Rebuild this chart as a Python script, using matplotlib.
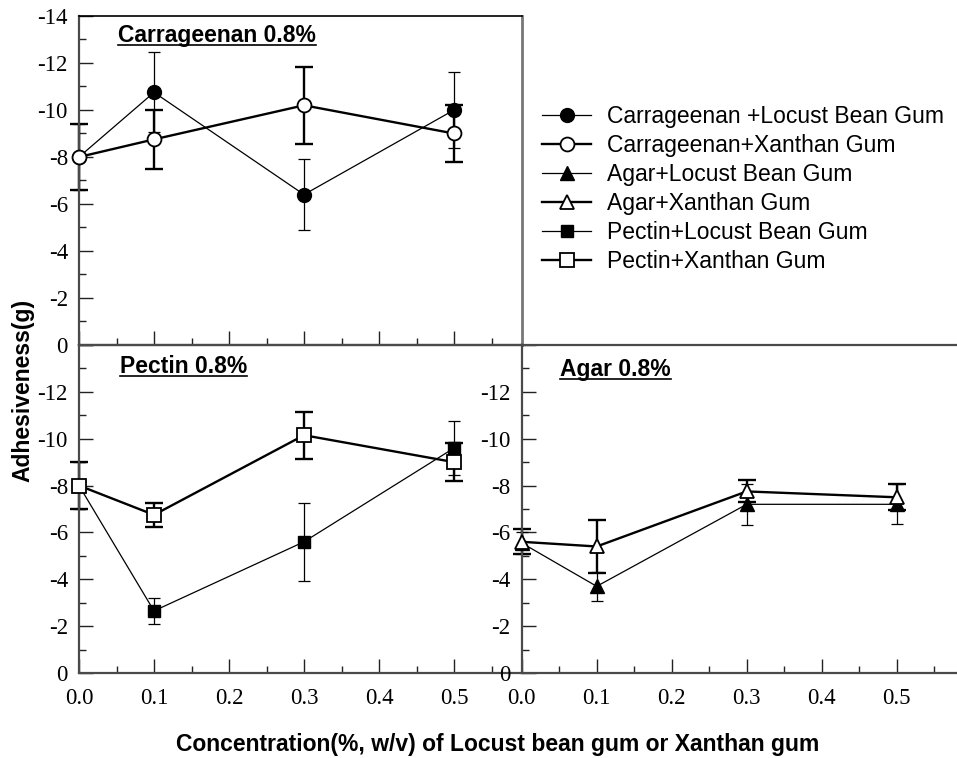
import matplotlib
matplotlib.use('Agg')
import matplotlib.pyplot as plt
from matplotlib.ticker import FixedLocator, FixedFormatter, MultipleLocator
from matplotlib.lines import Line2D

# ---------------- data ----------------
conc = [0.0, 0.1, 0.3, 0.5]

car_lbg = [-8.0, -10.75, -6.4, -10.0]
car_lbg_err = [1.4, 1.7, 1.5, 1.6]
car_xg = [-8.0, -8.75, -10.2, -9.0]
car_xg_err = [1.4, 1.25, 1.65, 1.2]

agar_lbg = [-5.55, -3.7, -7.2, -7.2]
agar_lbg_err = [0.48, 0.62, 0.87, 0.85]
agar_xg = [-5.6, -5.4, -7.75, -7.5]
agar_xg_err = [0.53, 1.12, 0.47, 0.55]

pec_lbg = [-8.0, -2.65, -5.6, -9.6]
pec_lbg_err = [1.0, 0.57, 1.67, 1.15]
pec_xg = [-8.0, -6.75, -10.15, -9.0]
pec_xg_err = [1.0, 0.5, 1.0, 0.8]

series_labels = ['Carrageenan +Locust Bean Gum', 'Carrageenan+Xanthan Gum',
                 'Agar+Locust Bean Gum', 'Agar+Xanthan Gum',
                 'Pectin+Locust Bean Gum', 'Pectin+Xanthan Gum']
panel_titles = ['Carrageenan 0.8%', 'Pectin 0.8%', 'Agar 0.8%']
y_ticks = [0, -2, -4, -6, -8, -10, -12, -14]
y_tick_labels_top = ['0', '-2', '-4', '-6', '-8', '-10', '-12', '-14']
y_tick_labels_bot = ['0', '-2', '-4', '-6', '-8', '-10', '-12', '']
x_ticks = [0.0, 0.1, 0.2, 0.3, 0.4, 0.5]
x_tick_labels = ['0.0', '0.1', '0.2', '0.3', '0.4', '0.5']
y_label = 'Adhesiveness(g)'
x_label = 'Concentration(%, w/v) of Locust bean gum or Xanthan gum'

# ---------------- layout ----------------
W, H = 957, 758
fig = plt.figure(figsize=(W / 100, H / 100), dpi=100)

SANS = 'Liberation Sans'
SERIF = 'Liberation Serif'
SPINE_C = '#4a4a4a'

def fx(px):
    return px / W

def fy(py):
    return 1 - py / H

x_left, x_mid, x_right = 79, 521.7, 957
y_top, y_mid, y_bot = 16, 345, 673

ax_top = fig.add_axes([fx(x_left), fy(y_mid), (x_mid - x_left) / W, (y_mid - y_top) / H])
ax_bl = fig.add_axes([fx(x_left), fy(y_bot), (x_mid - x_left) / W, (y_bot - y_mid) / H])
ax_br = fig.add_axes([fx(x_mid), fy(y_bot), (x_right - x_mid) / W, (y_bot - y_mid) / H])

px_per_unit = 750.0
for ax, right in ((ax_top, x_mid), (ax_bl, x_mid), (ax_br, x_right)):
    ax.set_facecolor('none')
    ax.set_xlim(0, (right - (x_left if ax is not ax_br else x_mid)) / px_per_unit)
    ax.set_ylim(0, -14)
    ax.xaxis.set_major_locator(FixedLocator(x_ticks))
    ax.xaxis.set_minor_locator(MultipleLocator(0.05))
    ax.yaxis.set_major_locator(FixedLocator(y_ticks))
    ax.yaxis.set_minor_locator(FixedLocator([-1, -3, -5, -7, -9, -11, -13]))
    ax.tick_params(which='both', direction='in', top=False, right=False,
                   color='#222222', width=1.0)
    ax.tick_params(which='major', length=10)
    ax.tick_params(which='minor', length=5)
    ax.tick_params(axis='y', which='major', pad=8, labelsize=16.5)
    ax.tick_params(axis='x', which='major', pad=11, labelsize=16.5)
    for s in ax.spines.values():
        s.set_color(SPINE_C)
        s.set_linewidth(1.6)

ax_top.yaxis.set_major_formatter(FixedFormatter(y_tick_labels_top))
ax_bl.yaxis.set_major_formatter(FixedFormatter(y_tick_labels_bot))
ax_br.yaxis.set_major_formatter(FixedFormatter(y_tick_labels_bot))
ax_top.xaxis.set_major_formatter(FixedFormatter([''] * len(x_ticks)))
ax_bl.xaxis.set_major_formatter(FixedFormatter(x_tick_labels))
ax_br.xaxis.set_major_formatter(FixedFormatter(x_tick_labels))

for ax in (ax_top, ax_bl, ax_br):
    for lab in ax.get_xticklabels() + ax.get_yticklabels():
        lab.set_fontfamily(SERIF)

ax_top.spines['top'].set_color('black')
ax_top.spines['top'].set_linewidth(1.2)
ax_top.spines['right'].set_color('#777777')
ax_top.spines['right'].set_linewidth(2.0)
ax_bl.spines['right'].set_visible(False)
ax_br.spines['right'].set_visible(False)


def draw_series(ax, y, err, marker, filled, thick, ms, label):
    lw = 1.7 if thick else 0.9
    cap = 6.5 if thick else 4.5
    ax.errorbar(conc, y, yerr=err, fmt='none', ecolor='black', elinewidth=lw,
                capsize=cap, capthick=lw, zorder=2, clip_on=False)
    line, = ax.plot(conc, y, color='black', lw=lw, marker=marker, ms=ms,
                    mfc='black' if filled else 'white', mec='black',
                    mew=1.3 if not filled else 1.0, zorder=3, clip_on=False,
                    label=label)
    return line


h1 = draw_series(ax_top, car_lbg, car_lbg_err, 'o', True, False, 10, series_labels[0])
h2 = draw_series(ax_top, car_xg, car_xg_err, 'o', False, True, 10, series_labels[1])
h3 = draw_series(ax_br, agar_lbg, agar_lbg_err, '^', True, False, 10, series_labels[2])
h4 = draw_series(ax_br, agar_xg, agar_xg_err, '^', False, True, 10, series_labels[3])
h5 = draw_series(ax_bl, pec_lbg, pec_lbg_err, 's', True, False, 8.5, series_labels[4])
h6 = draw_series(ax_bl, pec_xg, pec_xg_err, 's', False, True, 9.5, series_labels[5])

leg = fig.legend([h1, h2, h3, h4, h5, h6], series_labels, loc='upper left',
                 bbox_to_anchor=(fx(541.7), fy(105)), frameon=False,
                 prop={'family': SANS, 'size': 16.5}, handlelength=2.17,
                 handletextpad=0.7, labelspacing=0.26, borderpad=0,
                 borderaxespad=0)

# panel titles (bold, underlined)
title_pos = [(118, 42), (120, 373), (560, 376)]
title_texts = []
for t, (px, py) in zip(panel_titles, title_pos):
    title_texts.append(fig.text(fx(px), fy(py), t, ha='left', va='baseline',
                                fontsize=16.5, fontweight='bold', family=SANS))

fig.text(fx(23), fy(390), y_label, rotation=90, ha='center', va='center',
         fontsize=16.5, fontweight='bold', family=SANS)
fig.text(fx(498), fy(745), x_label, ha='center', va='center',
         fontsize=16.5, fontweight='bold', family=SANS)

fig.canvas.draw()
renderer = fig.canvas.get_renderer()
for t, (px, py) in zip(title_texts, title_pos):
    bb = t.get_window_extent(renderer)
    yline = fy(py + 2.5)
    fig.add_artist(Line2D([bb.x0 / W, bb.x1 / W], [yline, yline],
                          transform=fig.transFigure, color='black', lw=1.2))

fig.savefig('out.png', dpi=100)
